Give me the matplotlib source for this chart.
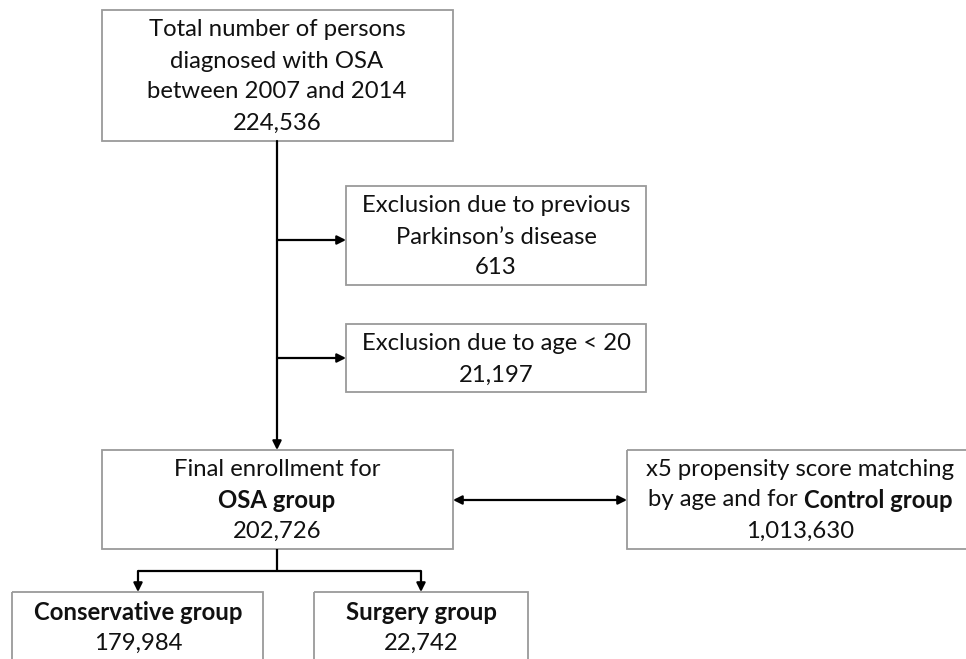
import matplotlib
matplotlib.use("Agg")
import matplotlib.pyplot as plt
from matplotlib.patches import Rectangle

plt.rcParams['font.family'] = ['Lato', 'DejaVu Sans']

# ---- data ----
total_n = "224,536"
excl_parkinson_n = "613"
excl_age_n = "21,197"
osa_n = "202,726"
control_n = "1,013,630"
conservative_n = "179,984"
surgery_n = "22,742"

W, H = 966, 659
fig = plt.figure(figsize=(W / 100, H / 100), dpi=100)
ax = fig.add_axes([0, 0, 1, 1])
ax.set_xlim(0, W)
ax.set_ylim(H, 0)
ax.axis('off')

FS = 17.2
EDGE = '#9a9a9a'

def box(x0, y0, x1, y1):
    ax.add_patch(Rectangle((x0, y0), x1 - x0, y1 - y0, fill=False,
                           edgecolor=EDGE, linewidth=1.3, clip_on=False))

fig.canvas.draw()
renderer = fig.canvas.get_renderer()

def text_line(cx, cy, parts):
    """parts: list of (string, weight). Centered at cx."""
    objs = []
    widths = []
    for s, w in parts:
        t = ax.text(0, cy, s, fontsize=FS, fontweight=w, ha='left', va='center',
                    color='#111111')
        bb = t.get_window_extent(renderer=renderer)
        objs.append(t)
        widths.append(bb.width)
    total = sum(widths)
    x = cx - total / 2
    for t, w in zip(objs, widths):
        t.set_x(x)
        x += w

def lines(cx, ys, rows):
    for y, row in zip(ys, rows):
        if isinstance(row, str):
            row = [(row, 'normal')]
        text_line(cx, y, row)

def arrow(x0, y0, x1, y1):
    ax.annotate('', xy=(x1, y1), xytext=(x0, y0),
                arrowprops=dict(arrowstyle='-|>', color='black', lw=1.6,
                                mutation_scale=13, shrinkA=0, shrinkB=0))

def seg(xs, ys):
    ax.plot(xs, ys, color='black', lw=1.6, solid_capstyle='butt')

# boxes
box(102, 10, 453, 141)
box(346, 186, 646, 285)
box(346, 324, 646, 392)
box(102, 450, 453, 549)
box(627, 450, 980, 549)
box(12, 592, 263, 680)
box(314, 592, 528, 680)

# texts
lines(277, [29, 61, 92, 123], ["Total number of persons", "diagnosed with OSA",
                               "between 2007 and 2014", total_n])
lines(496, [206, 237, 267], ["Exclusion due to previous",
                             "Parkinson\u2019s disease", excl_parkinson_n])
lines(496, [344, 375], ["Exclusion due to age < 20", excl_age_n])
lines(277, [469, 500, 531], ["Final enrollment for",
                             [("OSA group", 'bold')], osa_n])
lines(800, [469, 500, 531], ["x5 propensity score matching",
                             [("by age and for ", 'normal'), ("Control group", 'bold')],
                             control_n])
lines(138, [612, 643], [[("Conservative group", 'bold')], conservative_n])
lines(421, [612, 643], [[("Surgery group", 'bold')], surgery_n])

# connectors
arrow(277, 141, 277, 450)
arrow(277, 240, 346, 240)
arrow(277, 358, 346, 358)
ax.annotate('', xy=(627, 500), xytext=(453, 500),
            arrowprops=dict(arrowstyle='<|-|>', color='black', lw=1.6,
                            mutation_scale=13, shrinkA=0, shrinkB=0))
seg([277, 277], [549, 571])
seg([138, 421], [571, 571])
arrow(138, 571, 138, 592)
arrow(421, 571, 421, 592)

fig.savefig('out.png', dpi=100)
